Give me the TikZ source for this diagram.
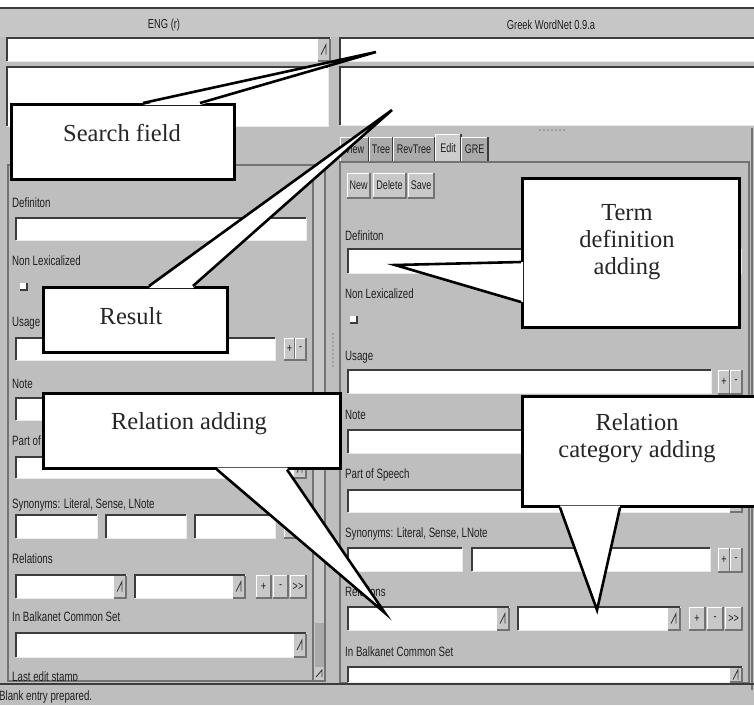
\documentclass[tikz,border=0pt]{standalone}
\usepackage{fontspec}
\setmainfont{Liberation Serif}
\newfontfamily\guifont[FakeStretch=0.72]{Liberation Sans}
\usepackage{tikz}

\definecolor{guibg}{RGB}{190,190,190}
\definecolor{headbg}{RGB}{198,198,198}
\definecolor{tabbg}{RGB}{170,170,170}
\definecolor{tabsel}{RGB}{205,205,205}
\definecolor{btnbg}{RGB}{200,200,200}
\definecolor{edgedark}{RGB}{60,60,60}
\definecolor{edgemid}{RGB}{115,115,115}

\tikzset{
  sunken/.style={draw=edgedark, line width=1.6pt},
  litedge/.style={draw=white!92!black, line width=1pt},
  btnshade/.style={draw=edgemid, line width=1.2pt},
  panel/.style={draw=edgemid, line width=1.2pt},
  lbl/.style={anchor=west, inner sep=0pt, text height=9.5pt, text depth=2.5pt,
    font=\guifont\fontsize{13.5}{14}\selectfont, text=black!88},
  headtext/.style={inner sep=0pt, font=\guifont\fontsize{13}{14}\selectfont, text=black!88},
  btntext/.style={inner sep=0pt, font=\guifont\fontsize{12.5}{13}\selectfont, text=black!88},
  bubble/.style={draw=black, line width=2.6pt, fill=white, inner sep=0pt, anchor=north west},
  bubtext/.style={inner sep=0pt, align=center, font=\fontsize{24.5}{27}\selectfont, text=black!85},
  wedge/.style={draw=black, line width=2.6pt}
}

% white field, sunken frame
\newcommand{\guifield}[4]{%
  \fill[white] (#1,#2) rectangle (#3,#4);
  \draw[litedge] (#1,#4) -- (#3,#4) -- (#3,#2);
  \draw[sunken] (#1,#4) -- (#1,#2) -- (#3,#2);
}
% field with drop button
\newcommand{\guicombo}[4]{%
  \guifield{#1}{#2}{#3}{#4}
  \fill[btnbg] (#3-12,#2+1) rectangle (#3,#4);
  \draw[btnshade] (#3-12,#4) -- (#3,#4) -- (#3,#2+1);
  \draw[edgedark, line width=0.9pt] (#3-9,{(#2+#4)/2+5}) -- (#3-4,{(#2+#4)/2-5}) -- (#3-4,{(#2+#4)/2+5});
}
% raised button: x1 y1 x2 y2 text name
\newcommand{\guibtn}[6]{%
  \fill[btnbg] (#1,#2) rectangle (#3,#4);
  \draw[white, line width=1pt] (#1,#4) -- (#1,#2) -- (#3,#2);
  \draw[btnshade] (#1,#4) -- (#3,#4) -- (#3,#2);
  \node[btntext] (#6) at ({(#1+#3)/2},{(#2+#4)/2}) {#5};
}
% tab: x1 x2 ytop text name fill
\newcommand{\guitab}[6]{%
  \fill[#6] (#1,162) rectangle (#2,#3);
  \draw[white, line width=1pt] (#1,162) -- (#1,#3) -- (#2,#3);
  \draw[edgedark, line width=1.2pt] (#2,#3) -- (#2,162);
  \node[btntext] (#5) at ({(#1+#2)/2},{(#3+162)/2}) {#4};
}
% check box
\newcommand{\guicheck}[2]{%
  \fill[white] (#1,#2) rectangle (#1+7,#2+7);
  \draw[edgedark, line width=1.2pt] (#1+7,#2) -- (#1+7,#2+7) -- (#1,#2+7);
}

\begin{document}
\begin{tikzpicture}[x=1pt,y=-1pt]
\useasboundingbox (0,0) rectangle (754,705);
\clip (0,0) rectangle (754,705);

% window and header
\fill[white] (0,0) rectangle (754,8);
\fill[guibg] (0,8) rectangle (754,705);
\fill[headbg] (0,9) rectangle (754,37);
\draw[edgedark, line width=2pt] (0,8) -- (754,8);
\node[headtext] (enghead) at (164,25) {ENG (r)};
\node[headtext] (grhead) at (551,25) {Greek WordNet 0.9.a};

% search and result fields
\guicombo{7}{38}{330}{61}
\guifield{340}{38}{756}{61}
\guifield{7}{67}{328}{126}
\guifield{340}{67}{756}{125}
\foreach \k in {0,...,6}
  \fill[edgedark] (540+\k*4,130) circle (0.7);

% right panel
\guitab{340}{369}{137}{View}{tview}{tabbg}
\guitab{369}{393}{137}{Tree}{ttree}{tabbg}
\guitab{393}{435}{137}{RevTree}{trevtree}{tabbg}
\guitab{435}{461}{134}{Edit}{tedit}{tabsel}
\guitab{461}{488}{137}{GRE}{tgre}{tabbg}
\draw[panel] (340,162) rectangle (749,683);
\draw[panel] (752,128) -- (752,690);

\guibtn{347}{173}{370}{198}{New}{rnew}
\guibtn{373}{173}{406}{198}{Delete}{rdelete}
\guibtn{408}{173}{434}{198}{Save}{rsave}
\node[lbl] (rdeflbl) at (345,237) {Definiton};
\guifield{348}{249}{741}{273}
\node[lbl] (rnonlex) at (345,295) {Non Lexicalized};
\guicheck{350}{316}
\node[lbl] (rusage) at (345,357) {Usage};
\guifield{348}{370}{711}{393}
\guibtn{718}{370}{730}{394}{+}{rusageplus}
\guibtn{730}{370}{742}{394}{-}{rusageminus}
\node[lbl] (rnote) at (345,416) {Note};
\guifield{348}{430}{741}{453}
\node[lbl] (rpos) at (345,475) {Part of Speech};
\guicombo{348}{490}{742}{512}
\node[lbl] (rsyn) at (345,534) {Synonyms: Literal, Sense, LNote};
\guifield{348}{548}{462}{571}
\guifield{472}{548}{710}{571}
\guibtn{718}{548}{730}{572}{+}{rsynplus}
\guibtn{730}{548}{742}{572}{-}{rsynminus}
\node[lbl] (rrel) at (345,593) {Relations};
\guicombo{348}{607}{509}{630}
\guicombo{518}{607}{680}{630}
\guibtn{689}{607}{705}{630}{+}{rrelplus}
\guibtn{707}{607}{723}{630}{-}{rrelminus}
\guibtn{725}{607}{742}{630}{{>}{>}}{rrelmore}
\node[lbl] (rbalk) at (345,653) {In Balkanet Common Set};
\guicombo{348}{667}{742}{682}

% left panel
\draw[panel] (8,165) rectangle (325,681);
\fill[btnbg] (313,168) rectangle (324,680);
\draw[panel] (313,168) -- (313,680);
\fill[tabbg] (315,623) rectangle (324,667);
\draw[edgedark, line width=0.9pt] (316,677) -- (322,670) -- (322,677);
\foreach \k in {0,...,8}
  \fill[edgedark] (333,334+\k*4) circle (0.7);

\node[lbl] (ldeflbl) at (12,204) {Definiton};
\guifield{16}{218}{306}{240}
\node[lbl] (lnonlex) at (12,262) {Non Lexicalized};
\guicheck{20}{283}
\node[lbl] (lusage) at (12,323) {Usage};
\guifield{16}{338}{275}{360}
\guibtn{284}{338}{295}{360}{+}{lusageplus}
\guibtn{295}{338}{306}{360}{-}{lusageminus}
\node[lbl] (lnote) at (12,385) {Note};
\guifield{16}{398}{306}{420}
\node[lbl] (lpos) at (12,442) {Part of Speech};
\guicombo{16}{457}{306}{478}
\node[lbl] (lsyn) at (12,505) {Synonyms: Literal, Sense, LNote};
\guifield{16}{515}{97}{538}
\guifield{106}{515}{186}{538}
\guifield{195}{515}{275}{538}
\guibtn{284}{515}{295}{538}{+}{lsynplus}
\guibtn{295}{515}{306}{538}{-}{lsynminus}
\node[lbl] (lrel) at (12,560) {Relations};
\guicombo{16}{575}{126}{598}
\guicombo{135}{575}{245}{598}
\guibtn{256}{575}{271}{598}{+}{lrelplus}
\guibtn{273}{575}{288}{598}{-}{lrelminus}
\guibtn{290}{575}{306}{598}{{>}{>}}{lrelmore}
\node[lbl] (lbalk) at (12,618) {In Balkanet Common Set};
\guicombo{16}{633}{306}{657}
\begin{scope}
  \clip (8,660) rectangle (312,680);
  \node[lbl] (lstamp) at (12,678) {Last edit stamp};
\end{scope}

% status bar
\draw[edgedark, line width=2pt] (0,684) -- (754,684);
\node[lbl] (status) at (-1,697) {Blank entry prepared.};

% callouts
\node[bubble, minimum width=223pt, minimum height=75pt] (search) at (10,103) {};
\node[bubtext] (searchtxt) at (122,133) {Search field};
\coordinate (searchtip) at (376,52);
\fill[white] ([xshift=133pt,yshift=-2pt]search.north west) -- (searchtip)
  -- ([xshift=190pt,yshift=-2pt]search.north west) -- cycle;
\draw[wedge] ([xshift=133pt]search.north west) -- (searchtip) -- ([xshift=190pt]search.north west);

\node[bubble, minimum width=184pt, minimum height=65pt] (result) at (42,286) {};
\node[bubtext] (resulttxt) at (131,316) {Result};
\coordinate (resulttip) at (392,110);
\fill[white] ([xshift=107pt,yshift=-2pt]result.north west) -- (resulttip)
  -- ([xshift=151pt,yshift=-2pt]result.north west) -- cycle;
\draw[wedge] ([xshift=107pt]result.north west) -- (resulttip) -- ([xshift=151pt]result.north west);

\node[bubble, minimum width=217pt, minimum height=149pt] (termdef) at (521,177) {};
\node[bubtext] (termdeftxt) at (627,242) {Term\\definition\\adding};
\coordinate (termdeftip) at (395,265);
\fill[white] ([yshift=-85pt,xshift=2pt]termdef.north west) -- (termdeftip)
  -- ([yshift=-125pt,xshift=2pt]termdef.north west) -- cycle;
\draw[wedge] ([yshift=-85pt]termdef.north west) -- (termdeftip) -- ([yshift=-125pt]termdef.north west);

\node[bubble, minimum width=297pt, minimum height=75pt] (reladd) at (42,392) {};
\node[bubtext] (reladdtxt) at (189,424) {Relation adding};
\coordinate (reladdtip) at (385,613);
\fill[white] ([xshift=175pt,yshift=2pt]reladd.south west) -- (reladdtip)
  -- ([xshift=245pt,yshift=2pt]reladd.south west) -- cycle;
\draw[wedge] ([xshift=175pt]reladd.south west) -- (reladdtip) -- ([xshift=245pt]reladd.south west);

\node[bubble, minimum width=240pt, minimum height=110pt] (relcat) at (521,395) {};
\node[bubtext] (relcattxt) at (637,438) {Relation\\category adding};
\coordinate (relcattip) at (597,610);
\fill[white] ([xshift=39pt,yshift=2pt]relcat.south west) -- (relcattip)
  -- ([xshift=99pt,yshift=2pt]relcat.south west) -- cycle;
\draw[wedge] ([xshift=39pt]relcat.south west) -- (relcattip) -- ([xshift=99pt]relcat.south west);
\end{tikzpicture}
\end{document}
